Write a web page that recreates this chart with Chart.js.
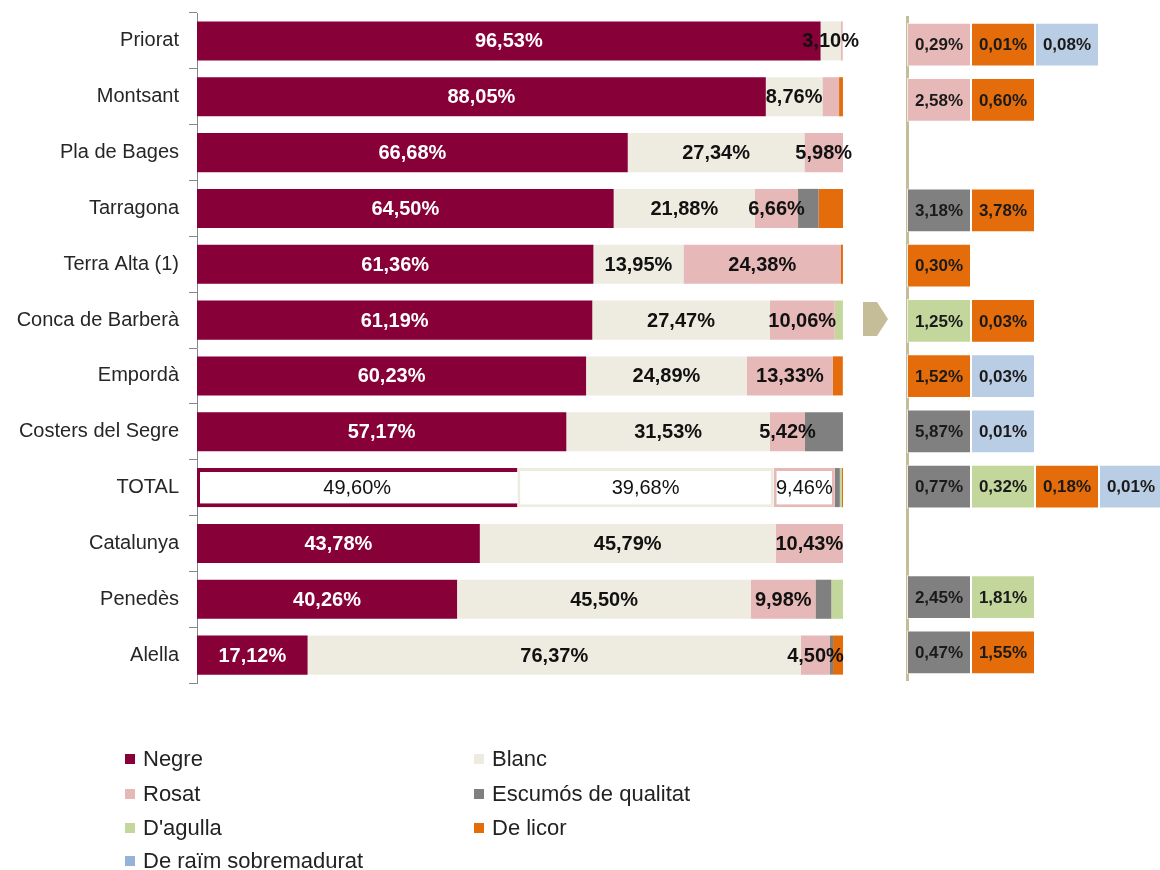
<!DOCTYPE html>
<html>
<head>
<meta charset="utf-8">
<script src="https://cdn.jsdelivr.net/npm/chart.js@4"></script>
<style>
  body { margin: 0; background: #fff; overflow: hidden; width: 1160px; height: 870px; position: relative; font-family: "Liberation Sans", Arial, sans-serif; }
  canvas { position: absolute; top: 0; }
  #main { left: 0; }
  #detail { left: 880px; }
  #arrow { position: absolute; left: 0; top: 0; }
  .leg { position: absolute; font-size: 22px; color: #222; line-height: 24px; white-space: nowrap; }
  .leg span { display: inline-block; width: 10px; height: 10px; margin-right: 8px; vertical-align: 2px; }
</style>
</head>
<body>
<canvas id="main" width="870" height="700"></canvas>
<canvas id="detail" width="283" height="700"></canvas>
<svg id="arrow" width="1160" height="870"><polygon points="863,302 877,302 888,319 877,336 863,336" fill="#C4BD97"/></svg>
<div id="legend"></div>
<script>
// wine types share (%) by DO
const categories = ['Priorat', 'Montsant', 'Pla de Bages', 'Tarragona', 'Terra Alta (1)', 'Conca de Barberà',
  'Empordà', 'Costers del Segre', 'TOTAL', 'Catalunya', 'Penedès', 'Alella'];
const negre   = [96.53, 88.05, 66.68, 64.50, 61.36, 61.19, 60.23, 57.17, 49.60, 43.78, 40.26, 17.12];
const blanc   = [3.10, 8.76, 27.34, 21.88, 13.95, 27.47, 24.89, 31.53, 39.68, 45.79, 45.50, 76.37];
const rosat   = [0.29, 2.58, 5.98, 6.66, 24.38, 10.06, 13.33, 5.42, 9.46, 10.43, 9.98, 4.50];
const escumos = [0, 0, 0, 3.18, 0, 0, 0, 5.87, 0.77, 0, 2.45, 0.47];
const agulla  = [0, 0, 0, 0, 0, 1.25, 0, 0, 0.32, 0, 1.81, 0];
const licor   = [0.01, 0.60, 0, 3.78, 0.30, 0.03, 1.52, 0, 0.18, 0, 0, 1.55];
const raim    = [0.08, 0, 0, 0, 0, 0, 0.03, 0.01, 0.01, 0, 0, 0];

const seriesNames = ['Negre', 'Blanc', 'Rosat', 'Escumós de qualitat', "D'agulla", 'De licor', 'De raïm sobremadurat'];
const seriesColors = ['#870037', '#EEECE1', '#E6B9B8', '#808080', '#C3D69B', '#E46C0A', '#B9CDE5'];
const legendColors = ['#870037', '#EEECE1', '#E6B9B8', '#808080', '#C3D69B', '#E46C0A', '#95B3D7'];

const totalIdx = categories.indexOf('TOTAL');
const rosatDetailLimit = 3; // small rosé shares go to the detail panel

const fmt = v => v.toFixed(2).replace('.', ',') + '%';

const allSeries = [negre, blanc, rosat, escumos, agulla, licor, raim];

const mainDatasets = allSeries.map((data, s) => ({
  label: seriesNames[s],
  data: data,
  backgroundColor: ctx => (ctx.dataIndex === totalIdx && s < 3) ? '#ffffff' : seriesColors[s],
  borderColor: seriesColors[s],
  borderWidth: ctx => {
    if (ctx.dataIndex !== totalIdx || s > 2) return 0;
    if (s === 0) return { top: 4, bottom: 4, left: 3, right: 0 };
    return 3;
  },
  borderSkipped: false
}));

const mainLabels = {
  id: 'mainLabels',
  afterDatasetsDraw(chart) {
    const ctx = chart.ctx;
    ctx.save();
    ctx.textAlign = 'center';
    ctx.textBaseline = 'middle';
    for (let s = 0; s < 3; s++) {
      const meta = chart.getDatasetMeta(s);
      meta.data.forEach((el, i) => {
        const v = allSeries[s][i];
        if (s === 2 && v < rosatDetailLimit) return;
        const isTotal = i === totalIdx;
        ctx.font = (isTotal ? '' : 'bold ') + '20px "Liberation Sans", Arial, sans-serif';
        ctx.fillStyle = (s === 0 && !isTotal) ? '#ffffff' : '#111111';
        ctx.fillText(fmt(v), (el.x + el.base) / 2, el.y + 1);
      });
    }
    ctx.restore();
  }
};

new Chart(document.getElementById('main'), {
  type: 'bar',
  data: { labels: categories, datasets: mainDatasets },
  options: {
    indexAxis: 'y',
    responsive: false,
    animation: false,
    layout: { padding: { top: 13, bottom: 17, left: 0, right: 27 } },
    datasets: { bar: { categoryPercentage: 1, barPercentage: 0.7 } },
    plugins: { legend: { display: false }, tooltip: { enabled: false } },
    scales: {
      x: { stacked: true, min: 0, max: 100, display: false },
      y: {
        stacked: true,
        afterFit: scale => {
          scale.width = 197;
          scale.paddingTop = 0;
          scale.paddingBottom = 0;
        },
        grid: { offset: true, drawOnChartArea: false, drawTicks: true, tickLength: 8, color: '#868686' },
        border: { display: true, color: '#868686', width: 1 },
        ticks: { color: '#262626', padding: 10, font: { family: '"Liberation Sans", Arial, sans-serif', size: 20 } }
      }
    }
  },
  plugins: [mainLabels]
});

// detail panel: every small share gets one equal box
const detailSeries = [
  rosat.map(v => (v > 0 && v < rosatDetailLimit) ? v : 0),
  escumos, agulla, licor, raim
];
const detailColors = [seriesColors[2], seriesColors[3], seriesColors[4], seriesColors[5], seriesColors[6]];

const detailDatasets = detailSeries.map((vals, s) => ({
  data: vals.map(v => v > 0 ? 1 : null),
  backgroundColor: detailColors[s],
  borderColor: 'rgba(255,255,255,0.7)',
  borderWidth: 1,
  borderSkipped: false
}));

const detailLabels = {
  id: 'detailLabels',
  afterDatasetsDraw(chart) {
    const ctx = chart.ctx;
    ctx.save();
    ctx.textAlign = 'center';
    ctx.textBaseline = 'middle';
    ctx.font = 'bold 17px "Liberation Sans", Arial, sans-serif';
    ctx.fillStyle = '#1a1a1a';
    detailSeries.forEach((vals, s) => {
      chart.getDatasetMeta(s).data.forEach((el, i) => {
        if (!(vals[i] > 0)) return;
        ctx.fillText(fmt(vals[i]), (el.x + el.base) / 2, el.y + 1);
      });
    });
    ctx.restore();
  }
};

new Chart(document.getElementById('detail'), {
  type: 'bar',
  data: { labels: categories, datasets: detailDatasets },
  options: {
    indexAxis: 'y',
    responsive: false,
    animation: false,
    layout: { padding: { top: 17, bottom: 20, left: 0, right: 0 } },
    datasets: { bar: { categoryPercentage: 1, barPercentage: 0.79 } },
    plugins: { legend: { display: false }, tooltip: { enabled: false } },
    scales: {
      x: { stacked: true, min: 0, max: 4, display: false },
      y: {
        stacked: true,
        afterFit: scale => { scale.width = 27; },
        grid: { display: false },
        border: { display: true, color: '#C4BD97', width: 3 },
        ticks: { display: false }
      }
    }
  },
  plugins: [detailLabels]
});

// legend, two columns
const legendPos = [[125, 747], [474, 747], [125, 782], [474, 782], [125, 816], [474, 816], [125, 849]];
const legend = document.getElementById('legend');
seriesNames.forEach((name, s) => {
  const d = document.createElement('div');
  d.className = 'leg';
  d.style.left = legendPos[s][0] + 'px';
  d.style.top = legendPos[s][1] + 'px';
  d.innerHTML = '<span style="background:' + legendColors[s] + '"></span>' + name;
  legend.appendChild(d);
});
</script>
</body>
</html>
